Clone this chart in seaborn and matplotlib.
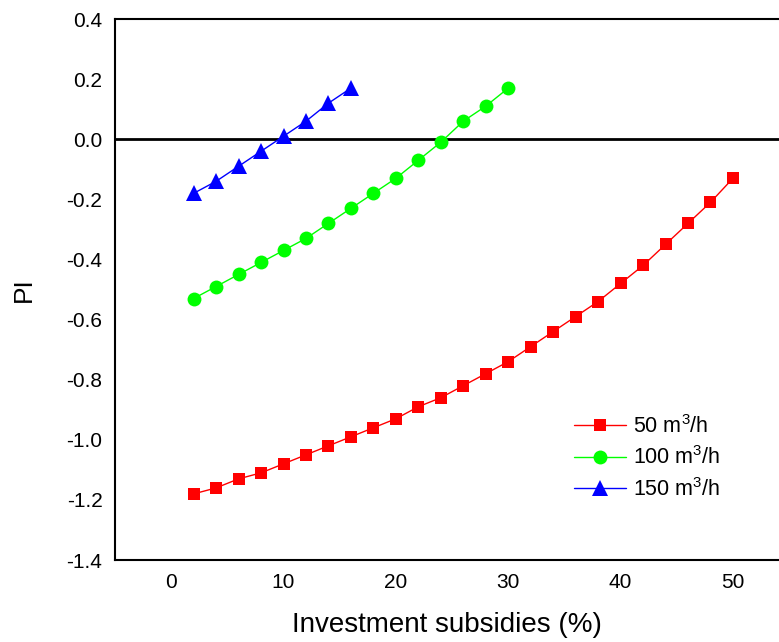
import pandas as pd
import numpy as np
import matplotlib
matplotlib.use("Agg")
import matplotlib.pyplot as plt
import seaborn as sns

# data
x_50 = [2, 4, 6, 8, 10, 12, 14, 16, 18, 20, 22, 24, 26, 28, 30, 32, 34, 36, 38, 40, 42, 44, 46, 48, 50]
pi_50 = [-1.18, -1.16, -1.13, -1.11, -1.08, -1.05, -1.02, -0.99, -0.96, -0.93, -0.89, -0.86, -0.82,
         -0.78, -0.74, -0.69, -0.64, -0.59, -0.54, -0.48, -0.42, -0.35, -0.28, -0.21, -0.13]
x_100 = [2, 4, 6, 8, 10, 12, 14, 16, 18, 20, 22, 24, 26, 28, 30]
pi_100 = [-0.53, -0.49, -0.45, -0.41, -0.37, -0.33, -0.28, -0.23, -0.18, -0.13, -0.07, -0.01, 0.06, 0.11, 0.17]
x_150 = [2, 4, 6, 8, 10, 12, 14, 16]
pi_150 = [-0.18, -0.14, -0.09, -0.04, 0.01, 0.06, 0.12, 0.17]
labels = ['50 m$^3$/h', '100 m$^3$/h', '150 m$^3$/h']
yticks = [-1.4, -1.2, -1.0, -0.8, -0.6, -0.4, -0.2, 0.0, 0.2, 0.4]

series = [(x_50, pi_50, labels[0], '#ff0000', 's', 8.6),
          (x_100, pi_100, labels[1], '#00ff00', 'o', 10),
          (x_150, pi_150, labels[2], '#0000ff', '^', 11.5)]

sns.set_style('white')
plt.rcParams['font.family'] = ['Liberation Sans', 'DejaVu Sans']
plt.rcParams['mathtext.fontset'] = 'custom'
plt.rcParams['mathtext.rm'] = 'Liberation Sans'
plt.rcParams['text.color'] = 'black'
plt.rcParams['axes.labelcolor'] = 'black'
plt.rcParams['xtick.color'] = 'black'
plt.rcParams['ytick.color'] = 'black'

fig = plt.figure(figsize=(7.79, 6.42), dpi=100)
ax = fig.add_axes([0.1476, 0.1277, 0.8524, 0.8427])

for xs, ys, lab, col, mk, ms in series:
    sns.lineplot(x=xs, y=ys, color=col, marker=mk, markersize=ms,
                 markeredgewidth=0, linewidth=1, label=lab, ax=ax)

ax.axhline(0, color='black', linewidth=2, zorder=1)

ax.set_xlim(-5, 54.1)
ax.set_ylim(-1.4, 0.4)
ax.set_xticks([0, 10, 20, 30, 40, 50])
ax.set_yticks(yticks)
ax.set_yticklabels(['%.1f' % v for v in yticks])
ax.tick_params(labelsize=15, length=0, pad=9)
ax.set_xlabel('Investment subsidies (%)', fontsize=20, labelpad=15)
ax.set_ylabel('PI', fontsize=19, labelpad=22)

for s in ['left', 'bottom', 'top']:
    ax.spines[s].set_color('black')
    ax.spines[s].set_linewidth(1.5)
ax.spines['right'].set_visible(False)

ax.legend(loc='lower right', bbox_to_anchor=(0.925, 0.094), frameon=False,
          fontsize=15.5, handlelength=2.4, handletextpad=0.35, labelspacing=0.39,
          borderaxespad=0)

fig.savefig('out.png', dpi=100)
